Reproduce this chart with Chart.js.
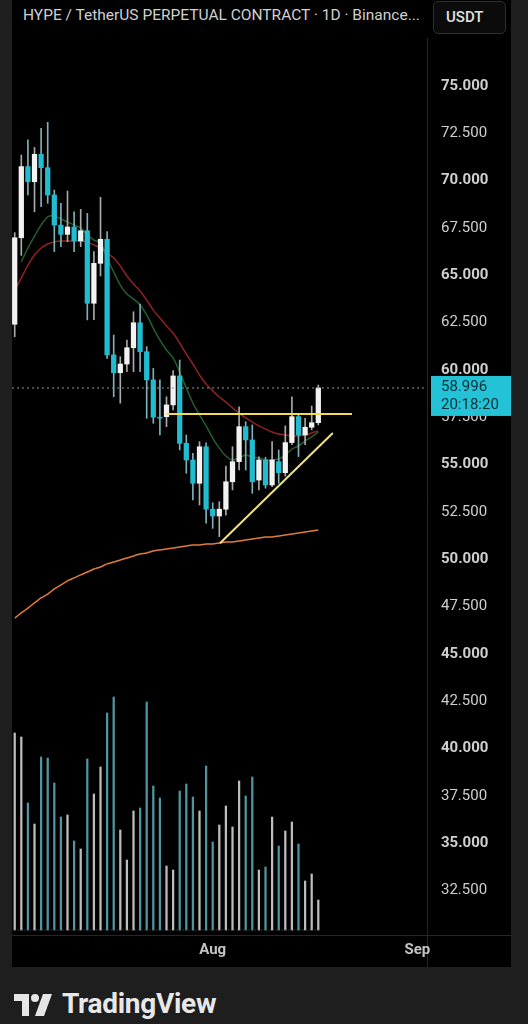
<!DOCTYPE html>
<html><head><meta charset="utf-8">
<script src="https://cdn.jsdelivr.net/npm/chart.js@4.4.0/dist/chart.umd.min.js"></script>
<style>
html,body{margin:0;padding:0;background:#1e1e1e;width:528px;height:1024px;overflow:hidden;font-family:Roboto,"Noto Sans",sans-serif}
#pane{position:absolute;left:12px;top:0;width:499px;height:967px;background:#000}
#title{position:absolute;left:23px;top:6px;font-size:15.5px;color:#d0d0d0;white-space:nowrap}
#unit{position:absolute;left:433px;top:1px;width:73px;height:33px;box-sizing:border-box;border:1px solid #2e2e2e;border-radius:5px;background:#0b0b0b;color:#e2e2e2;font-size:15px;font-weight:500;line-height:31px;padding-left:12px}
#c{position:absolute;left:12px;top:0}
#logo{position:absolute;left:14px;top:994px}
#brand{position:absolute;left:62px;top:987px;font-size:28px;font-weight:700;color:#e8e8e8;letter-spacing:-0.3px}
</style></head>
<body>
<div id="pane"></div>
<div id="title">HYPE / TetherUS PERPETUAL CONTRACT · 1D · Binance...</div>
<div id="unit">USDT</div>
<canvas id="c" width="499" height="967"></canvas>
<svg id="logo" width="40" height="24" viewBox="0 0 40 24">
  <path d="M0 0H15V22H8V7H0Z" fill="#e6e6e6"/>
  <circle cx="21" cy="4" r="4" fill="#e6e6e6"/>
  <path d="M29 0H38L30 22H21Z" fill="#e6e6e6"/>
</svg>
<div id="brand">TradingView</div>
<script>
// daily candles, index 0 = Jul 2, index 30 = Aug 1
const opens  = [62.36,66.93,70.69,69.89,71.34,70.63,69.19,67.60,67.11,67.50,66.76,67.30,63.47,65.58,66.85,60.74,59.80,60.26,61.12,62.44,60.91,59.42,57.45,57.48,58.10,59.63,56.07,55.19,53.96,55.89,52.59,52.23,52.59,54.04,55.10,56.95,56.25,54.13,55.19,53.87,55.10,54.52,56.11,57.48,56.51,56.92,57.16];
const highs  = [67.20,71.30,72.10,71.70,72.71,73.03,69.45,68.75,69.40,68.30,68.43,68.22,66.20,69.07,67.25,61.79,60.65,61.53,63.02,63.43,61.18,60.03,59.42,58.53,59.91,60.47,56.51,55.54,56.16,56.10,52.93,52.99,54.87,55.89,58.00,57.21,57.04,55.36,55.33,56.16,55.72,56.99,58.53,57.57,57.39,58.04,59.15];
const lows   = [61.70,66.00,69.19,68.30,68.57,68.75,66.20,66.46,66.72,66.20,66.46,62.59,62.60,64.91,60.56,58.53,58.19,59.85,59.85,59.85,57.39,57.13,56.51,56.95,57.83,55.72,54.49,53.08,52.81,51.85,51.58,51.14,52.28,53.61,54.66,54.66,53.43,53.61,53.70,53.78,53.96,54.34,56.00,55.37,56.00,56.78,57.04];
const closes = [66.93,70.69,69.89,71.34,70.63,69.19,67.60,67.11,67.50,66.76,67.30,63.47,65.58,66.85,60.74,59.80,60.26,61.12,62.44,60.91,59.42,57.45,57.40,58.10,59.63,56.07,55.19,53.96,55.89,52.59,52.23,52.59,54.04,55.10,56.95,56.25,54.04,55.19,53.87,55.19,54.52,56.11,57.48,56.51,56.92,57.16,58.996];
const volumes = [19.7,19.3,12.7,10.6,17.3,17.2,14.7,11.3,11.5,8.9,8.1,17.1,13.6,16.3,21.7,23.3,10.0,7.0,11.9,12.2,22.8,14.4,13.2,6.4,6.0,13.9,14.6,13.3,11.9,16.4,8.8,10.5,12.4,10.3,14.9,13.4,15.3,6.0,6.3,11.3,8.4,9.9,10.8,8.6,4.9,5.6,3.0];
const emaFast = [null,65.65,66.39,67.02,67.60,68.03,68.08,67.92,67.76,67.60,67.45,67.08,66.81,66.65,65.86,65.12,64.43,63.96,63.70,63.38,62.85,62.16,61.53,61.00,60.58,59.84,58.99,58.20,57.57,56.99,56.35,55.82,55.40,55.19,55.30,55.45,55.35,55.30,55.19,55.19,55.24,55.45,55.77,55.93,56.19,56.41,56.67];
const emaSlow = [64.17,64.80,65.49,66.02,66.39,66.60,66.71,66.76,66.76,66.76,66.76,66.71,66.55,66.39,66.13,65.86,65.44,64.91,64.49,64.12,63.64,63.11,62.69,62.27,61.90,61.37,60.79,60.26,59.68,59.20,58.84,58.52,58.25,57.94,57.67,57.41,57.20,56.99,56.83,56.67,56.56,56.51,56.46,56.46,56.51,56.62,56.72];
const maLong  = [46.84,47.11,47.37,47.64,47.90,48.11,48.38,48.59,48.80,48.96,49.12,49.27,49.43,49.54,49.70,49.80,49.91,50.01,50.12,50.22,50.28,50.38,50.44,50.49,50.54,50.59,50.65,50.70,50.70,50.75,50.75,50.81,50.86,50.86,50.91,50.96,51.02,51.07,51.12,51.12,51.18,51.23,51.28,51.33,51.39,51.44,51.49];
const resistance = [[23,57.62],[51.1,57.62]];
const support    = [[31.1,50.79],[48.2,56.62]];
const lastPrice = 58.996, countdown = "20:18:20";
const priceTicks = [75,72.5,70,67.5,65,62.5,60,57.5,55,52.5,50,47.5,45,42.5,40,37.5,35,32.5];
const xTickIdx = [30,61], xTickLabels = ["Aug","Sep"];
const X_MIN = -0.41, X_MAX = 62.47, Y_MIN = 30.097, Y_MAX = 77.377;

const UP="#f2f2f2", DN="#22bcd0";
const isUp = i => closes[i] >= opens[i];
const idx = opens.map((_,i)=>i);
const pts = (arr)=>arr.map((v,i)=>v==null?null:{x:i,y:v}).filter(Boolean);
const seg = (s)=>s.map(p=>({x:p[0],y:p[1]}));
const line = (label,data,color,w,order,extra={})=>({type:"line",label,data,borderColor:color,borderWidth:w,pointRadius:0,tension:0.25,order,yAxisID:"y",...extra});

const frame = {
  id:"frame",
  beforeDraw(chart){
    const {ctx,chartArea:a,width,height}=chart;
    ctx.save(); ctx.strokeStyle="#262626"; ctx.lineWidth=1;
    ctx.beginPath(); ctx.moveTo(a.right+0.5,38); ctx.lineTo(a.right+0.5,height);
    ctx.moveTo(0,a.bottom+0.5); ctx.lineTo(width,a.bottom+0.5); ctx.stroke(); ctx.restore();
  },
  afterDraw(chart){
    const {ctx,chartArea:a,scales:{y}}=chart;
    const py=y.getPixelForValue(lastPrice);
    ctx.save();
    ctx.fillStyle="#23c2d6"; ctx.fillRect(a.right+4,py-12,80,40);
    ctx.fillStyle="#073239"; ctx.font="15px Roboto"; ctx.textBaseline="middle"; ctx.textAlign="left";
    ctx.fillText(lastPrice.toFixed(3),a.right+14,py-1);
    ctx.fillText(countdown,a.right+14,py+17);
    ctx.restore();
  }
};

new Chart(document.getElementById("c"),{
  type:"bar",
  data:{datasets:[
    {label:"volume",yAxisID:"yv",data:idx.map(i=>({x:i,y:volumes[i]})),backgroundColor:idx.map(i=>isUp(i)?"#bdbdbd":"#4e97a2"),barThickness:1.6,grouped:false,order:20},
    line("vol base",[{x:0,y:0},{x:46,y:0}],"#5a5a5a",1,19,{yAxisID:"yv",borderDash:[1,2],tension:0}),
    line("MA long",pts(maLong),"#e27b3a",1.5,18),
    line("EMA slow",pts(emaSlow),"#8e2222",1.5,17),
    line("EMA fast",pts(emaFast),"#24602d",1.5,16),
    {label:"wicks",data:idx.map(i=>({x:i,y:[lows[i],highs[i]]})),backgroundColor:idx.map(i=>isUp(i)?"#a9a9a9":"#7fb0b8"),barThickness:1,grouped:false,order:15},
    {label:"bodies",data:idx.map(i=>({x:i,y:[opens[i],closes[i]]})),backgroundColor:idx.map(i=>isUp(i)?UP:DN),barThickness:4.6,minBarLength:1,grouped:false,order:14},
    line("resistance",seg(resistance),"#f3dc4d",2,3,{tension:0}),
    line("support",seg(support),"#efe27e",2,2,{tension:0}),
    line("last",[{x:X_MIN,y:lastPrice},{x:X_MAX,y:lastPrice}],"#8f9aa0",1,1,{borderDash:[2,3],tension:0})
  ]},
  options:{
    responsive:false, devicePixelRatio:1, animation:false,
    layout:{padding:{top:40,left:0,right:0,bottom:0}},
    plugins:{legend:{display:false},tooltip:{enabled:false}},
    scales:{
      x:{type:"linear",min:X_MIN,max:X_MAX,offset:false,
        grid:{display:false,drawTicks:false},border:{display:false},
        afterBuildTicks:s=>{s.ticks=xTickIdx.map(v=>({value:v}));},
        afterFit:s=>{s.height=32;},
        ticks:{autoSkip:false,maxRotation:0,padding:6,color:"#c4c4c4",font:{family:"Roboto",size:15,weight:"bold"},
          callback:v=>xTickLabels[xTickIdx.indexOf(v)]}},
      y:{position:"right",min:Y_MIN,max:Y_MAX,beginAtZero:false,
        grid:{display:false,drawTicks:false},border:{display:false},
        afterBuildTicks:s=>{s.ticks=priceTicks.map(v=>({value:v}));},
        afterFit:s=>{s.width=84;},
        ticks:{padding:14,labelOffset:1,color:"#cfcfcf",
          font:c=>({family:"Roboto",size:15,weight:(c.tick&&c.tick.value%5===0)?"bold":"normal"}),
          callback:v=>Number(v).toFixed(3)}},
      yv:{display:false,min:-0.5,max:89.0}
    }
  },
  plugins:[frame]
});
</script>
</body></html>
